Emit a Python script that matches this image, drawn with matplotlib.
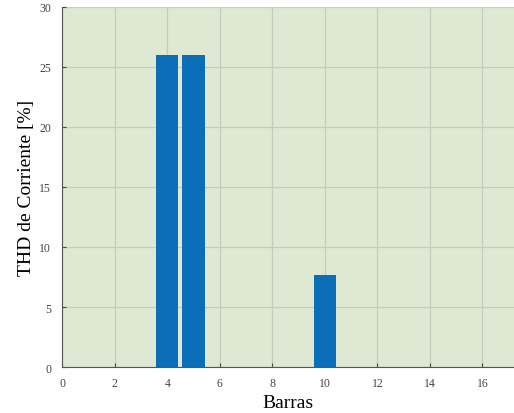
import matplotlib
matplotlib.use('Agg')
import matplotlib.pyplot as plt

# Datos: THD de corriente por barra
barras = [4, 5, 10]
thd_corriente = [26.0, 26.0, 7.7]
xticks = [0, 2, 4, 6, 8, 10, 12, 14, 16]
yticks = [0, 5, 10, 15, 20, 25, 30]

plt.rcParams['font.family'] = ['Liberation Serif', 'DejaVu Serif']

fig = plt.figure(figsize=(5.14, 4.14), dpi=100)
ax = fig.add_axes([0.121, 0.111, 0.879, 0.870])
ax.set_facecolor('#dfe8d3')

ax.bar(barras, thd_corriente, width=0.85, color='#0a6eb8', zorder=3)

ax.set_xlim(0, 17.2)
ax.set_ylim(0, 30)
ax.set_xticks(xticks)
ax.set_yticks(yticks)
ax.tick_params(direction='in', labelsize=8.5, colors='#444444', length=3)
ax.tick_params(axis='x', pad=7)
ax.tick_params(axis='y', pad=8)
ax.grid(True, color='#c4cdb9', linewidth=0.9, zorder=0)

for s in ['top', 'right']:
    ax.spines[s].set_visible(False)
ax.spines['left'].set_color('#555555')
ax.spines['bottom'].set_color('#555555')

ax.set_xlabel('Barras', fontsize=14, labelpad=4)
ax.set_ylabel('THD de Corriente [%]', fontsize=14, labelpad=3)

fig.savefig('out.png', dpi=100)
